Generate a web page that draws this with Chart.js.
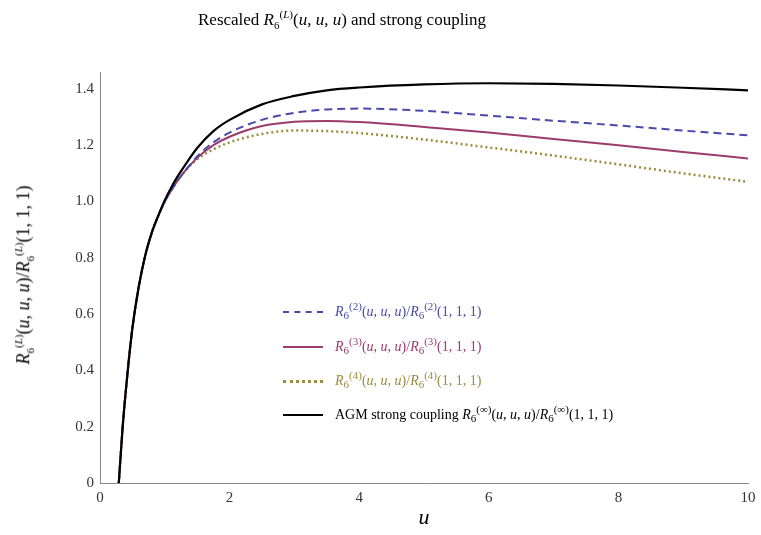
<!DOCTYPE html>
<html><head><meta charset="utf-8">
<script src="https://cdn.jsdelivr.net/npm/chart.js@4/dist/chart.umd.min.js"></script>
<style>
body{margin:0;background:#fff;font-family:"Liberation Serif",serif;}
#wrap{position:relative;width:761px;height:535px;}
.t{position:absolute;white-space:nowrap;font-size:16px;}
.t i{font-style:italic}
sub,sup{font-size:11px}
.leg{position:absolute;left:283px;font-size:14px;white-space:nowrap}
.leg span.s{display:inline-block;width:40px;height:0;vertical-align:middle;margin-right:12px}
#yl{position:absolute;left:24px;top:275px;transform:translate(-50%,-50%) rotate(-90deg);white-space:nowrap;font-size:18px}
</style></head><body>
<div id="wrap"><canvas id="c" width="761" height="535"></canvas>
<div class="t" style="left:198px;top:8px;font-size:17px">Rescaled <i>R</i><sub>6</sub><sup>(<i>L</i>)</sup>(<i>u</i>, <i>u</i>, <i>u</i>) and strong coupling</div>
<div id="yl"><i>R</i><sub>6</sub><sup>(<i>L</i>)</sup>(<i>u</i>, <i>u</i>, <i>u</i>)/<i>R</i><sub>6</sub><sup>(<i>L</i>)</sup>(1, 1, 1)</div>
<div class="leg" style="top:300px;color:#4a4aa8"><span class="s" style="border-top:2px dashed #4a4aa8"></span><i>R</i><sub>6</sub><sup>(2)</sup>(<i>u</i>, <i>u</i>, <i>u</i>)/<i>R</i><sub>6</sub><sup>(2)</sup>(1, 1, 1)</div>
<div class="leg" style="top:335px;color:#9c3c6c"><span class="s" style="border-top:2px solid #9c3c6c"></span><i>R</i><sub>6</sub><sup>(3)</sup>(<i>u</i>, <i>u</i>, <i>u</i>)/<i>R</i><sub>6</sub><sup>(3)</sup>(1, 1, 1)</div>
<div class="leg" style="top:369px;color:#9c8c3c"><span class="s" style="border-top:3px dotted #9c8c3c"></span><i>R</i><sub>6</sub><sup>(4)</sup>(<i>u</i>, <i>u</i>, <i>u</i>)/<i>R</i><sub>6</sub><sup>(4)</sup>(1, 1, 1)</div>
<div class="leg" style="top:403px;color:#000"><span class="s" style="border-top:2px solid #000"></span>AGM strong coupling <i>R</i><sub>6</sub><sup>(∞)</sup>(<i>u</i>, <i>u</i>, <i>u</i>)/<i>R</i><sub>6</sub><sup>(∞)</sup>(1, 1, 1)</div>
</div>
<script>
const uStart = [0.29, 0.35, 0.42, 0.5, 0.6, 0.7, 0.8, 0.9, 1.0, 1.1, 1.2, 1.3];
const uTail = [1.5, 1.75, 2, 2.5, 3, 3.5, 4, 5, 6, 7, 8, 9, 10];
const startVals = [0, 0.2, 0.38, 0.55, 0.7, 0.81, 0.89, 0.95, 1.0, 1.04, 1.075, 1.105];
const agmStart = [0, 0.2, 0.38, 0.55, 0.7, 0.81, 0.89, 0.95, 1.005, 1.05, 1.09, 1.125];
const l2Tail = [1.16, 1.21, 1.245, 1.29, 1.315, 1.327, 1.33, 1.322, 1.305, 1.287, 1.27, 1.252, 1.235];
const l3Tail = [1.155, 1.2, 1.23, 1.268, 1.283, 1.286, 1.282, 1.265, 1.245, 1.222, 1.2, 1.176, 1.153];
const l4Tail = [1.15, 1.185, 1.21, 1.24, 1.252, 1.25, 1.243, 1.22, 1.192, 1.163, 1.132, 1.1, 1.07];
const agmTail = [1.19, 1.25, 1.29, 1.345, 1.375, 1.395, 1.405, 1.416, 1.42, 1.418, 1.412, 1.404, 1.395];
const yTicks = [0, 0.2, 0.4, 0.6, 0.8, 1.0, 1.2, 1.4];

function pts(a, b) {
  const xs = uStart.concat(uTail), ys = a.concat(b);
  return xs.map((x, i) => ({x: x, y: ys[i]}));
}
const ds = (label, data, color, dash, w) => ({label, data, borderColor: color, borderDash: dash,
  borderWidth: w, pointRadius: 0, fill: false, cubicInterpolationMode: 'monotone'});

new Chart(document.getElementById('c'), {
  type: 'line',
  data: {datasets: [
    ds('AGM', pts(agmStart, agmTail), '#000', [], 2.2),
    ds('L=2', pts(startVals, l2Tail), '#4a4aa8', [8, 5], 2),
    ds('L=3', pts(startVals, l3Tail), '#9c3c6c', [], 2),
    ds('L=4', pts(startVals, l4Tail), '#9c8c3c', [2, 3], 2.5)
  ]},
  options: {
    responsive: false, animation: false,
    layout: {padding: {top: 72, right: 13, left: 0, bottom: 0}},
    plugins: {legend: {display: false}, tooltip: {enabled: false}},
    scales: {
      x: {type: 'linear', min: 0, max: 10,
        ticks: {stepSize: 2, color: '#333', padding: 2, font: {family: 'Liberation Serif', size: 15}},
        grid: {display: false, drawTicks: true, tickLength: 4, tickColor: '#888'},
        border: {color: '#888'},
        title: {display: true, text: 'u', font: {family: 'Liberation Serif', size: 22, style: 'italic'}, color: '#000'},
        afterFit: s => { s.height = 52; }},
      y: {min: 0, max: 1.46,
        afterBuildTicks: s => { s.ticks = yTicks.map(v => ({value: v})); },
        ticks: {color: '#333', padding: 2, font: {family: 'Liberation Serif', size: 15}, callback: v => v === 0 ? '0' : v.toFixed(1)},
        grid: {display: false, drawTicks: true, tickLength: 4, tickColor: '#888'},
        border: {color: '#888'},
        afterFit: s => { s.width = 100; }}
    }
  }
});
</script>
</body></html>
